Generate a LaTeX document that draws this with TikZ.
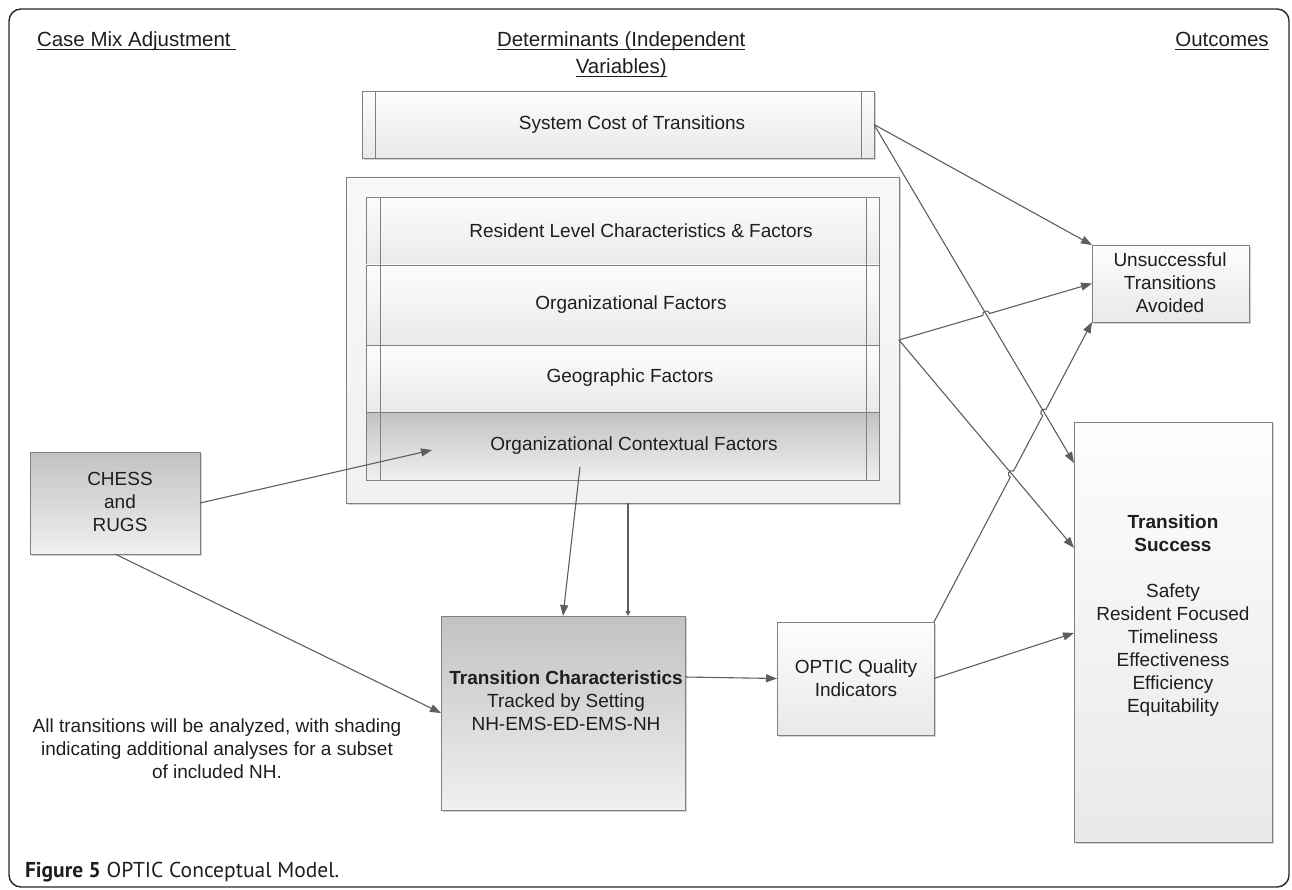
\documentclass[tikz,border=0pt]{standalone}
\usepackage{fontspec}
\setmainfont{Liberation Sans}
\newfontfamily\capfont{PT Sans}
\usetikzlibrary{arrows.meta,calc,intersections,shadows}
\definecolor{linec}{HTML}{5E5E5E}
\definecolor{edgec}{HTML}{808080}
\definecolor{txtc}{HTML}{1E1E1E}
\definecolor{ltop}{HTML}{FDFDFD}
\definecolor{lbot}{HTML}{E9E9E9}
\definecolor{dtop}{HTML}{C2C2C3}
\definecolor{dbot}{HTML}{F0F0F0}
\definecolor{ctop}{HTML}{F8F8F8}
\definecolor{cbot}{HTML}{F1F1F1}
\newsavebox\hdbox
\newcommand\hdrul[1]{\sbox\hdbox{#1}\rlap{\rule[-3.5pt]{\wd\hdbox}{1.1pt}}\usebox\hdbox}
\begin{document}
\begin{tikzpicture}[x=1pt,y=-1pt,
  every node/.style={inner sep=0pt,outer sep=0pt,text=txtc,font=\fontsize{19}{23}\selectfont},
  hdr/.style={font=\fontsize{20.5}{24}\selectfont},
  shd/.style={drop shadow={shadow xshift=2pt,shadow yshift=-2pt,opacity=0.18,fill=black}},
  lightbox/.style={rectangle,draw=edgec,line width=0.9pt,top color=ltop,bottom color=lbot},
  darkbox/.style={rectangle,draw=edgec,line width=0.9pt,top color=dtop,bottom color=dbot},
  contbox/.style={rectangle,draw=edgec,line width=0.9pt,top color=ctop,bottom color=cbot},
  bar/.style={draw=edgec,line width=0.8pt},
  lbl/.style={align=center},
  arr/.style={draw=linec,line width=1.1pt,-{Triangle[length=11pt,width=8pt]}},
  arrsmall/.style={draw=linec,line width=1.1pt,-{Triangle[length=5pt,width=5pt]}},
]
\useasboundingbox (0,0) rectangle (1292,890);
\draw[line width=1.4pt, draw=black!85, rounded corners=12pt] (9,9) rectangle (1289,887);

% headers
\node[hdr,anchor=base west] (hcase) at (37,47) {\hdrul{Case Mix Adjustment\ }};
\node[hdr,anchor=base west] (hdet1) at (497,47) {\hdrul{Determinants (Independent}};
\node[hdr,anchor=base] (hdet2) at (hdet1.base |- 0,74) {\hdrul{Variables)}};
\node[hdr,anchor=base] (hout) at (1222,47) {\hdrul{Outcomes}};

% system cost
\node[lightbox,shd,minimum width=512pt,minimum height=67pt] (sc) at (618,124.5) {};
\draw[bar] ($(sc.north west)+(13,0)$) -- ($(sc.south west)+(13,0)$);
\draw[bar] ($(sc.north east)+(-13,0)$) -- ($(sc.south east)+(-13,0)$);
\node[lbl] (sct) at (632,125) {System Cost of Transitions};

% container and stacked rows
\node[contbox,shd,minimum width=553pt,minimum height=326pt] (cont) at (622.5,340) {};
\node[lightbox,minimum width=513pt,minimum height=68pt] (r1) at (622.5,231) {};
\node[lightbox,minimum width=513pt,minimum height=80pt] (r2) at (622.5,305) {};
\node[lightbox,minimum width=513pt,minimum height=67pt] (r3) at (622.5,378.5) {};
\node[darkbox,minimum width=513pt,minimum height=68pt] (r4) at (622.5,446) {};
\draw[bar] ($(r1.north west)+(14,0)$) -- ($(r4.south west)+(14,0)$);
\draw[bar] ($(r1.north east)+(-13,0)$) -- ($(r4.south east)+(-13,0)$);
\node (r1t) at (641,231) {Resident Level Characteristics \& Factors};
\node (r2t) at (631,305) {Organizational Factors};
\node (r3t) at (630,378) {Geographic Factors};
\node (r4t) at (634,446) {Organizational Contextual Factors};

% CHESS
\node[darkbox,shd,minimum width=170pt,minimum height=102pt] (chess) at (115,503) {};
\node[lbl] (chesst) at (120,502) {CHESS\\and\\RUGS};

% Transition characteristics
\node[darkbox,shd,minimum width=244pt,minimum height=194pt] (tc) at (563,713) {};
\node[lbl] (tct) at (566,701) {\textbf{Transition Characteristics}\\Tracked by Setting\\NH-EMS-ED-EMS-NH};

% OPTIC
\node[lightbox,shd,minimum width=157pt,minimum height=113pt] (optic) at (855.5,678.5) {};
\node[lbl] (optict) at (856,678) {OPTIC Quality\\Indicators};

% Unsuccessful
\node[lightbox,shd,minimum width=157pt,minimum height=77pt] (un) at (1170.5,283.5) {};
\node[lbl] (unt) at (1170,283) {Unsuccessful\\Transitions\\Avoided};

% Transition success
\node[lightbox,shd,minimum width=198pt,minimum height=420pt] (ts) at (1173,632) {};
\node[lbl] (tst) at (1173,616) {\textbf{Transition}\\\textbf{Success}\\[23pt]Safety\\Resident Focused\\Timeliness\\Effectiveness\\Efficiency\\Equitability};

% note
\node[lbl] (note) at (217,749) {All transitions will be analyzed, with shading\\indicating additional analyses for a subset\\of included NH.};

% caption
\node[anchor=base west] (cap) at (25,877) {\capfont\fontsize{21.5}{25}\selectfont\textbf{Figure 5} OPTIC Conceptual Model.};

% connector end points
\coordinate (a1e) at (432,450);
\coordinate (a3s) at (580,467);
\coordinate (a4s) at ($(cont.south west)+(282,0)$);
\coordinate (a4e) at ($(tc.north west)+(187,0)$);
\coordinate (a5s) at ($(tc.north east)+(0,61)$);
\coordinate (tsA) at ($(ts.north west)+(0,41)$);
\coordinate (tsC) at ($(ts.north west)+(0,126)$);
\coordinate (tsD) at ($(ts.north west)+(0,211)$);

\draw[arr] (chess.east) -- (a1e);
\draw[arr] (chess.south) -- (tc.west);
\draw[arr] (a3s) -- (tc.north);
\draw[arrsmall] (a4s) -- (a4e);
\draw[arr] (a5s) -- (optic.west);
\draw[arr] (optic.east) -- (tsD);
\draw[arr] (sc.east) -- (un.north west);
\draw[arr, name path=p9] (sc.east) -- (tsA);
\draw[arr, name path=p11] (cont.east) -- (tsC);

\path[name path=p7] (optic.north east) -- (un.south west);
\path[name path=p10] (cont.east) -- (un.west);
\path[name intersections={of=p7 and p11, by=xa}];
\path[name intersections={of=p7 and p9, by=xb}];
\path[name intersections={of=p10 and p9, by=xc}];

\coordinate (xa1) at ($(xa)!3.5pt!(optic.north east)$);
\coordinate (xa2) at ($(xa)!3.5pt!(un.south west)$);
\coordinate (ca1) at ($(xa1)!4.7pt!90:(xa2)$);
\coordinate (ca2) at ($(xa2)!4.7pt!-90:(xa1)$);
\coordinate (xb1) at ($(xb)!3.5pt!(optic.north east)$);
\coordinate (xb2) at ($(xb)!3.5pt!(un.south west)$);
\coordinate (cb1) at ($(xb1)!4.7pt!90:(xb2)$);
\coordinate (cb2) at ($(xb2)!4.7pt!-90:(xb1)$);
\coordinate (xc1) at ($(xc)!3.5pt!(cont.east)$);
\coordinate (xc2) at ($(xc)!3.5pt!(un.west)$);
\coordinate (cc1) at ($(xc1)!4.7pt!90:(xc2)$);
\coordinate (cc2) at ($(xc2)!4.7pt!-90:(xc1)$);

\draw[arr] (optic.north east) -- (xa1) .. controls (ca1) and (ca2) .. (xa2) -- (xb1) .. controls (cb1) and (cb2) .. (xb2) -- (un.south west);
\draw[arr] (cont.east) -- (xc1) .. controls (cc1) and (cc2) .. (xc2) -- (un.west);
\end{tikzpicture}
\end{document}
